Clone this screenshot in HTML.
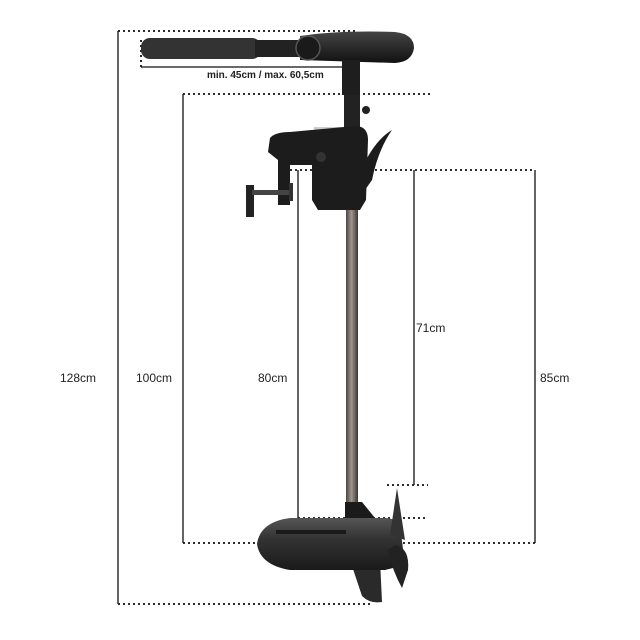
<!DOCTYPE html>
<html><head><meta charset="utf-8"><style>
html,body{margin:0;padding:0;background:#fff;}
svg{display:block;}
text{font-family:"Liberation Sans",sans-serif;fill:#222;}
</style></head><body>
<svg width="640" height="640" viewBox="0 0 640 640" xmlns="http://www.w3.org/2000/svg">
<defs>
<linearGradient id="shaft" x1="0" x2="1"><stop offset="0" stop-color="#4a443e"/><stop offset="0.45" stop-color="#a09890"/><stop offset="1" stop-color="#3a3530"/></linearGradient>
<linearGradient id="body" x1="0" y1="0" x2="0" y2="1"><stop offset="0" stop-color="#555"/><stop offset="0.4" stop-color="#333"/><stop offset="1" stop-color="#1a1a1a"/></linearGradient>
<linearGradient id="head" x1="0" y1="0" x2="0" y2="1"><stop offset="0" stop-color="#444"/><stop offset="1" stop-color="#111"/></linearGradient>
</defs>
<g stroke="#111" stroke-width="1.3" fill="none">
<line x1="118" y1="31" x2="118" y2="604"/>
<line x1="183" y1="94" x2="183" y2="543"/>
<line x1="298" y1="170" x2="298" y2="518"/>
<line x1="414" y1="170" x2="414" y2="485"/>
<line x1="535" y1="170" x2="535" y2="543"/>
<line x1="141" y1="67" x2="345" y2="67"/>
</g>
<g stroke="#111" stroke-width="1.8" fill="none" stroke-dasharray="2 3">
<line x1="118" y1="31" x2="358" y2="31"/>
<line x1="118" y1="604" x2="372" y2="604"/>
<line x1="183" y1="94" x2="432" y2="94"/>
<line x1="183" y1="543" x2="535" y2="543"/>
<line x1="290" y1="170" x2="535" y2="170"/>
<line x1="298" y1="518" x2="428" y2="518"/>
<line x1="387" y1="485" x2="428" y2="485"/>
<line x1="141" y1="40" x2="141" y2="67"/>
</g>
<rect x="141" y="38" width="120" height="21" rx="9" fill="#333"/>
<rect x="255" y="40" width="50" height="17" fill="#222"/>
<path d="M300 36 Q340 30 395 32 Q414 34 414 48 Q412 62 395 63 L300 60 Z" fill="url(#head)"/>
<circle cx="308" cy="48" r="12" fill="#1a1a1a" stroke="#555" stroke-width="1.5"/>
<rect x="342" y="60" width="18" height="35" fill="#1e1e1e"/>
<rect x="344" y="95" width="16" height="45" fill="#222"/>
<circle cx="366" cy="110" r="4" fill="#222"/>
<rect x="314" y="127" width="30" height="5" fill="#ccc"/>
<path d="M270 138 Q275 132 290 132 L355 126 Q368 126 368 140 L366 200 L360 210 L318 210 L312 200 L312 165 L290 165 L290 205 L278 205 L278 160 L268 152 Z" fill="#1c1c1c"/>
<path d="M362 168 Q375 140 392 130 Q378 150 372 180 L365 190 Z" fill="#1c1c1c"/>
<circle cx="321" cy="157" r="5" fill="#333"/>
<rect x="246" y="185" width="8" height="32" fill="#222"/>
<rect x="252" y="190" width="38" height="5" fill="#444"/>
<rect x="289" y="183" width="4" height="18" fill="#333"/>
<rect x="346" y="210" width="12" height="295" fill="url(#shaft)"/>
<path d="M345 502 L362 502 L375 518 L345 520 Z" fill="#1a1a1a"/>
<path d="M350 560 L380 560 L382 602 Q370 604 362 596 Z" fill="#2a2a2a"/>
<path d="M290 518 L385 518 Q395 518 400 525 L405 565 L385 570 L290 570 Q260 565 257 544 Q260 522 290 518 Z" fill="url(#body)"/>
<rect x="276" y="530" width="70" height="4" fill="#1a1a1a"/>
<path d="M397 488 L390 535 L405 540 Z" fill="#333"/>
<path d="M395 545 Q410 548 408 570 L402 588 Q392 570 388 550 Z" fill="#222"/>
<text x="207" y="78" font-size="10" font-weight="bold">min. 45cm / max. 60,5cm</text>
<text x="60" y="382" font-size="12">128cm</text>
<text x="136" y="382" font-size="12">100cm</text>
<text x="258" y="382" font-size="12">80cm</text>
<text x="416" y="332" font-size="12">71cm</text>
<text x="540" y="382" font-size="12">85cm</text>
</svg>
</body></html>
